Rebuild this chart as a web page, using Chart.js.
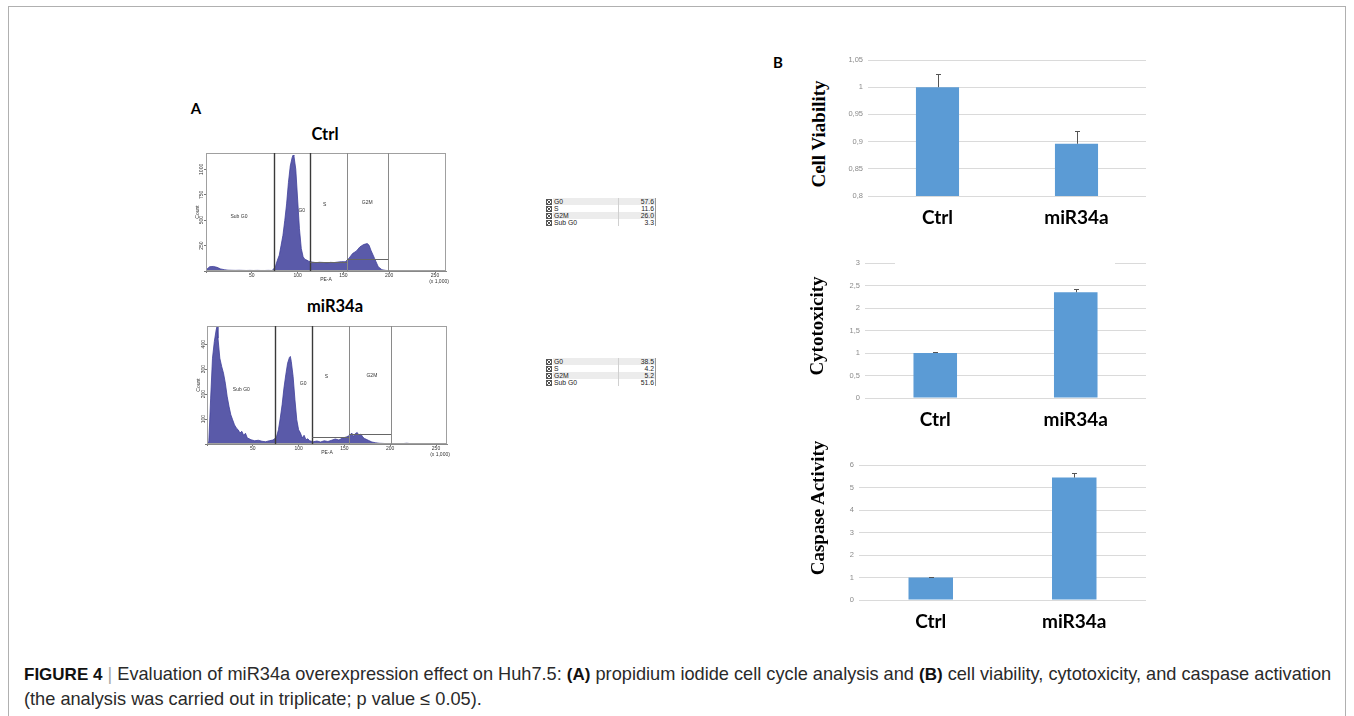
<!DOCTYPE html>
<html><head><meta charset="utf-8">
<script src="https://cdn.jsdelivr.net/npm/chart.js@4.4.0/dist/chart.umd.min.js"></script>
<style>
html,body{margin:0;padding:0}
body{width:1354px;height:716px;background:#fff;position:relative;overflow:hidden;font-family:'Liberation Sans',Arial,sans-serif}
#frame{position:absolute;left:8px;top:6px;width:1338px;height:740px;border:1.5px solid #b0b0b0;box-sizing:border-box}
canvas{position:absolute;display:block}
.lbl{position:absolute;font-family:Lato,'Open Sans',sans-serif;font-weight:700;color:#000;white-space:nowrap;transform:translate(-50%,-50%)}
.ytitle{position:absolute;font-family:'Liberation Serif','Times New Roman',serif;font-weight:700;font-size:19px;color:#000;white-space:nowrap;transform:translate(-50%,-50%) rotate(-90deg)}
.tbl{position:absolute;width:110px;font-size:6.8px;color:#222;border-right:1px solid #9a9a9a}
.row{position:relative;height:7px;line-height:7px}
.row .bx{position:absolute;left:1px;top:1px;width:4px;height:4px;border:0.8px solid #555;
  background:linear-gradient(45deg,transparent 42%,#555 42%,#555 58%,transparent 58%),linear-gradient(-45deg,transparent 42%,#555 42%,#555 58%,transparent 58%)}
.row .nm{position:absolute;left:8px;top:0;width:64px;height:7px;padding-left:1px}
.row .vl{position:absolute;left:73px;top:0;width:35px;height:7px;text-align:right;border-left:1px solid #d0d0d0;padding-right:1px}
.row.g .nm,.row.g .vl{background:#ececec}
#cap{position:absolute;left:24px;top:662px;font-family:'Liberation Sans',Arial,sans-serif;font-size:18.2px;line-height:24px;color:#2a2a2a;white-space:nowrap}
#cap b{color:#111;font-size:17px}
</style>
</head><body>
<div id="frame"></div>

<div class="lbl" style="left:196px;top:108px;font-size:15px">A</div>
<div class="lbl" style="left:325px;top:134px;font-size:16.5px">Ctrl</div>
<div class="lbl" style="left:335px;top:306px;font-size:16.5px">miR34a</div>
<div class="lbl" style="left:778px;top:62px;font-size:15px">B</div>

<canvas id="hCtrl" width="262" height="141" style="left:190px;top:146px"></canvas>
<canvas id="hMir" width="262" height="141" style="left:191px;top:319px"></canvas>

<div id="tCtrl" class="tbl" style="left:545px;top:198px"></div>
<div id="tMir" class="tbl" style="left:545px;top:358px"></div>

<canvas id="b1" width="324" height="186" style="left:830px;top:50px"></canvas>
<canvas id="b2" width="327" height="185" style="left:827px;top:253px"></canvas>
<canvas id="b3" width="333" height="185" style="left:821px;top:455px"></canvas>

<div class="ytitle" style="left:819px;top:133.5px">Cell Viability</div>
<div class="ytitle" style="left:817px;top:326px">Cytotoxicity</div>
<div class="ytitle" style="left:818px;top:508px">Caspase Activity</div>

<div id="cap"><b>FIGURE 4</b> <span style="color:#aaa">|</span> Evaluation of miR34a overexpression effect on Huh7.5: <b>(A)</b> propidium iodide cell cycle analysis and <b>(B)</b> cell viability, cytotoxicity, and caspase activation<br>(the analysis was carried out in triplicate; p value ≤ 0.05).</div>

<script>
// ---------- DATA ----------
const phaseNames = ['G0', 'S', 'G2M', 'Sub G0'];
const ctrlPct = ['57.6', '11.6', '26.0', '3.3'];
const mirPct = ['38.5', '4.2', '5.2', '51.6'];

const gateLabels = ['Sub G0', 'G0', 'S', 'G2M'];

// Ctrl histogram (PE-A x1000 vs Count)
const ctrlX = [0,4,8,12,16,20,24,28,32,36,40,44,48,52,56,60,64,68,72,
  74,76,78,80,82,84,86,88,90,92,94,95,96,98,100,102,104,106,108,110,112,114,
  116,120,124,128,132,136,140,144,148,152,156,160,164,168,172,176,
  178,180,184,188,192,196,200,206,212,218,224,230,236,242,248,254,260,262];
const ctrlCount = [10,42,45,36,20,13,8,7,6,7,6,5,6,5,6,5,5,6,5,
  20,52,107,156,253,351,497,660,871,1033,1115,1140,1131,1001,708,416,221,140,114,107,97,91,
  88,82,86,84,80,85,83,88,92,91,124,172,195,237,260,270,
  254,205,124,42,13,6,3,2,3,1,2,1,2,1,2,1,2,10];
const ctrlGates = [74, 114, 154, 199];
const ctrlGateBars = [[114, 154, 85], [154, 199, 114]];
const ctrlLabelX = [36, 104.5, 129.6, 176];
const ctrlLabelY = [536, 595, 650, 670];
const ctrlYMax = 1161;

// miR34a histogram
const mirX = [0,2,4,6,8,10,11,12,14,16,18,20,22,24,26,28,30,32,34,36,38,40,42,44,46,48,
  52,56,60,64,68,72,74,76,78,80,82,84,86,88,90,91,92,94,96,98,100,102,104,106,108,110,112,114,
  116,120,124,128,132,136,140,144,148,152,156,158,160,162,164,166,168,170,172,
  176,180,184,188,194,200,206,212,218,224,230,236,242,248,254,260,262];
const mirCount = [0,11,184,344,411,457,471,424,344,311,284,244,191,151,117,97,77,64,57,44,51,35,43,24,21,17,
  13,15,11,9,13,16,21,31,57,104,157,224,277,324,347,351,331,271,177,97,57,44,24,35,17,21,13,11,
  9,12,8,13,10,15,20,16,24,28,35,44,30,42,46,34,40,28,22,
  15,8,5,3,2,1,2,1,3,1,2,1,2,1,2,2];
const mirGates = [74, 115, 155, 201];
const mirGateBars = [[115, 155, 28], [155, 201, 40]];
const mirLabelX = [37.5, 105, 130.5, 180];
const mirLabelY = [217, 244, 271, 273];
const mirYMax = 473;

// Panel B
const groups = ['Ctrl', 'miR34a'];
const viability = [1.0, 0.896];
const viabilityErr = [0.0245, 0.024];
const cytotoxicity = [1.0, 2.35];
const cytotoxicityErr = [0.02, 0.07];
const caspase = [1.0, 5.44];
const caspaseErr = [0.02, 0.19];

// ---------- TABLES ----------
function buildTable(id, vals) {
  const el = document.getElementById(id);
  el.innerHTML = phaseNames.map((n, i) =>
    `<div class="row${i % 2 === 0 ? ' g' : ''}"><span class="bx"></span><span class="nm">${n}</span><span class="vl">${vals[i]}</span></div>`).join('');
}
buildTable('tCtrl', ctrlPct);
buildTable('tMir', mirPct);

// ---------- HISTOGRAMS ----------
function gatePlugin(edges, bars, lx, ly) {
  return {
    id: 'gates',
    afterDatasetsDraw(chart) {
      const {ctx, chartArea: a, scales: {x, y}} = chart;
      ctx.save();
      ctx.strokeStyle = '#a0a0a0'; ctx.lineWidth = 1;
      ctx.strokeRect(a.left + 0.5, a.top + 0.5, a.width - 1, a.height - 1);
      edges.forEach((e, i) => {
        const px = Math.round(x.getPixelForValue(e)) + 0.5;
        ctx.strokeStyle = i < 2 ? '#3a3a3a' : '#8a8a8a';
        ctx.lineWidth = i < 2 ? 1.4 : 1;
        ctx.beginPath(); ctx.moveTo(px, a.top); ctx.lineTo(px, a.bottom); ctx.stroke();
      });
      ctx.strokeStyle = '#666'; ctx.lineWidth = 1;
      bars.forEach(b => {
        const py = Math.round(y.getPixelForValue(b[2])) + 0.5;
        ctx.beginPath(); ctx.moveTo(x.getPixelForValue(b[0]), py); ctx.lineTo(x.getPixelForValue(b[1]), py); ctx.stroke();
      });
      ctx.fillStyle = '#333'; ctx.font = '5px "Liberation Sans"';
      ctx.textAlign = 'center'; ctx.textBaseline = 'middle';
      gateLabels.forEach((t, i) => ctx.fillText(t, x.getPixelForValue(lx[i]), y.getPixelForValue(ly[i])));
      ctx.fillText('(x 1,000)', a.right - 7, a.bottom + 11);
      ctx.restore();
    }
  };
}

function histChart(id, xs, ys, yMax, yStep, edges, bars, lx, ly) {
  return new Chart(document.getElementById(id), {
    type: 'line',
    data: {datasets: [{
      data: xs.map((v, i) => ({x: v, y: ys[i]})),
      fill: 'origin', backgroundColor: '#5a5aa9', borderColor: '#40409a',
      borderWidth: 0.8, pointRadius: 0, tension: 0
    }]},
    options: {
      responsive: false, animation: false,
      layout: {padding: {top: 7, right: 6, left: 0, bottom: 0}},
      plugins: {legend: {display: false}, tooltip: {enabled: false}},
      scales: {
        x: {
          type: 'linear', min: 0, max: 262,
          ticks: {stepSize: 50, includeBounds: false, autoSkip: false, maxRotation: 0,
            callback: v => (v > 0 && v % 50 === 0) ? String(v) : '',
            font: {size: 5, family: 'Liberation Sans'}, color: '#333', padding: 0},
          grid: {drawOnChartArea: false, drawTicks: true, tickLength: 2, color: '#777'},
          border: {display: true, color: '#888'},
          title: {display: true, text: 'PE-A', font: {size: 5, family: 'Liberation Sans'}, color: '#333', padding: {top: 0, bottom: 4}},
          afterFit(s) { s.height = 16; }
        },
        y: {
          min: 0, max: yMax,
          ticks: {stepSize: yStep, includeBounds: false, minRotation: 90, maxRotation: 90, crossAlign: 'center',
            callback: v => v > 0 ? String(v) : '',
            font: {size: 5, family: 'Liberation Sans'}, color: '#333', padding: -3},
          grid: {drawOnChartArea: false, drawTicks: true, tickLength: 2, color: '#777'},
          border: {display: true, color: '#888'},
          title: {display: true, text: 'Count', font: {size: 5, family: 'Liberation Sans'}, color: '#333', padding: {top: 5, bottom: 0}},
          afterFit(s) { s.width = 16; }
        }
      }
    },
    plugins: [gatePlugin(edges, bars, lx, ly)]
  });
}

histChart('hCtrl', ctrlX, ctrlCount, ctrlYMax, 250, ctrlGates, ctrlGateBars, ctrlLabelX, ctrlLabelY);
histChart('hMir', mirX, mirCount, mirYMax, 100, mirGates, mirGateBars, mirLabelX, mirLabelY);

// ---------- BAR CHARTS ----------
function errPlugin(errs) {
  return {
    id: 'errbars',
    afterDatasetsDraw(chart) {
      const ctx = chart.ctx, ys = chart.scales.y;
      const vals = chart.data.datasets[0].data;
      ctx.save(); ctx.strokeStyle = '#555'; ctx.lineWidth = 1;
      chart.getDatasetMeta(0).data.forEach((bar, i) => {
        const x = Math.round(bar.x) + 0.5;
        const y0 = ys.getPixelForValue(vals[i]);
        const y1 = Math.round(ys.getPixelForValue(vals[i] + errs[i])) + 0.5;
        ctx.beginPath(); ctx.moveTo(x, y0); ctx.lineTo(x, y1);
        ctx.moveTo(x - 2.5, y1); ctx.lineTo(x + 2.5, y1); ctx.stroke();
      });
      ctx.restore();
    }
  };
}
const coverTop = {
  id: 'coverTop',
  beforeDatasetsDraw(chart) {
    const {ctx, chartArea: a} = chart;
    ctx.save(); ctx.fillStyle = '#fff';
    ctx.fillRect(a.left + 30, a.top - 2, a.width - 61, 4);
    ctx.restore();
  }
};
const fmt = v => String(Math.round(v * 100) / 100).replace('.', ',');

function barChart(id, vals, errs, min, max, step, yWidth, extra) {
  return new Chart(document.getElementById(id), {
    type: 'bar',
    data: {labels: groups, datasets: [{data: vals, backgroundColor: '#5b9bd5', barPercentage: 0.31, categoryPercentage: 1}]},
    options: {
      responsive: false, animation: false,
      layout: {padding: {top: 10, right: 8, left: 0, bottom: 0}},
      plugins: {legend: {display: false}, tooltip: {enabled: false}},
      scales: {
        x: {
          grid: {display: false, drawTicks: false}, border: {display: false},
          ticks: {font: {family: 'Lato', weight: 'bold', size: 19}, color: '#000', padding: 10},
          afterFit(s) { s.height = 40; }
        },
        y: {
          min: min, max: max,
          ticks: {stepSize: step, callback: fmt, font: {size: 7.5, family: 'Liberation Sans'}, color: '#8a8a8a', padding: 5},
          grid: {color: '#dadada', drawTicks: false}, border: {display: false},
          afterFit(s) { s.width = yWidth; }
        }
      }
    },
    plugins: [errPlugin(errs)].concat(extra || [])
  });
}

barChart('b1', viability, viabilityErr, 0.8, 1.05, 0.05, 38);
barChart('b2', cytotoxicity, cytotoxicityErr, 0, 3, 0.5, 38, [coverTop]);
barChart('b3', caspase, caspaseErr, 0, 6, 1, 38);
</script>
</body></html>
